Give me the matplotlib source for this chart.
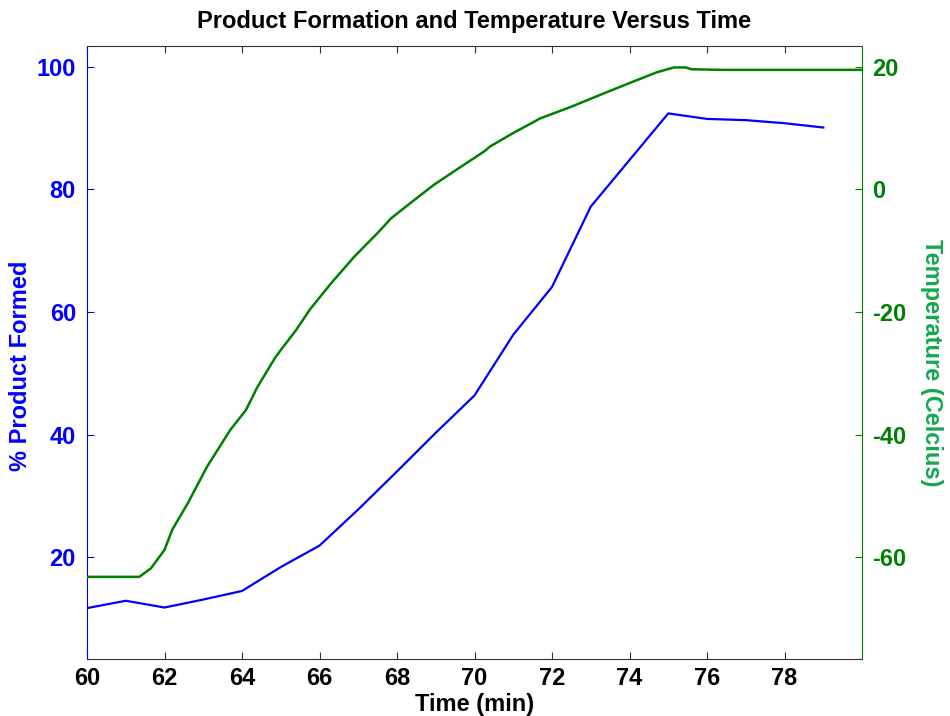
import matplotlib.pyplot as plt

# % product formed vs time
prod_t = [60, 61, 62, 63, 64, 65, 66, 67, 68, 69, 70, 71, 72, 73, 74, 75, 76, 77, 78, 79]
prod_pct = [11.7, 12.9, 11.8, 13.1, 14.5, 18.4, 21.9, 27.8, 34.0, 40.3, 46.4, 56.3, 64.1,
            77.2, 84.8, 92.4, 91.5, 91.3, 90.8, 90.1]

# temperature (Celcius) vs time
temp_t = [60, 61.35, 61.65, 62.0, 62.2, 62.6, 63.1, 63.7, 64.1, 64.4, 64.85, 65.0, 65.4,
          65.75, 66.3, 66.9, 67.5, 67.85, 68.35, 68.95, 69.65, 70.25, 70.4, 71.0, 71.7,
          72.5, 73.35, 74.1, 74.7, 75.15, 75.45, 75.6, 76.4, 80]
temp_c = [-63.2, -63.2, -61.8, -58.8, -55.5, -51.2, -45.2, -39.2, -36.0, -32.2, -27.5,
          -26.2, -22.9, -19.6, -15.3, -10.95, -7.1, -4.7, -2.2, 0.75, 3.7, 6.2, 7.0, 9.2,
          11.6, 13.5, 15.7, 17.6, 19.1, 19.9, 19.9, 19.6, 19.5, 19.5]

x_ticks = [60, 62, 64, 66, 68, 70, 72, 74, 76, 78]
left_ticks = [20, 40, 60, 80, 100]
right_ticks = [-60, -40, -20, 0, 20]

plt.rcParams['font.family'] = ['Liberation Sans', 'DejaVu Sans']
plt.rcParams['font.weight'] = 'bold'
plt.rcParams['axes.unicode_minus'] = False

blue = '#0000ff'
green = '#008000'
label_green = '#14a850'
fs = 17

fig = plt.figure(figsize=(9.5, 7.16), dpi=100)
ax = fig.add_axes([0.0916, 0.0796, 0.9074 - 0.0916, 0.9358 - 0.0796])
ax2 = ax.twinx()

ax.plot(prod_t, prod_pct, color=blue, lw=1.6)
ax2.plot(temp_t, temp_c, color=green, lw=1.8)

ax.set_xlim(60, 80)
ax.set_ylim(3.4, 103.4)
ax2.set_ylim(-76.6, 23.4)

ax.set_xticks(x_ticks)
ax.set_yticks(left_ticks)
ax2.set_yticks(right_ticks)

ax.tick_params(axis='x', direction='in', top=True, length=5, width=0.8, colors='#333333',
               labelcolor='black', labelsize=fs, pad=6)
ax.tick_params(axis='y', direction='in', length=5, width=0.8, colors=blue, labelcolor=blue,
               labelsize=fs, pad=8)
ax2.tick_params(axis='y', direction='in', length=5, width=0.8, colors=green,
                labelcolor=green, labelsize=fs, pad=7)

for lab in ax.get_xticklabels() + ax.get_yticklabels() + ax2.get_yticklabels():
    lab.set_fontweight('bold')

ax.spines['left'].set_color(blue)
ax.spines['right'].set_visible(False)
ax.spines['top'].set_color('#333333')
ax.spines['bottom'].set_color('#333333')
ax2.spines['left'].set_visible(False)
ax2.spines['top'].set_visible(False)
ax2.spines['bottom'].set_visible(False)
ax2.spines['right'].set_color(green)

ax.set_title('Product Formation and Temperature Versus Time', fontsize=fs,
             fontweight='bold', pad=13)
ax.set_xlabel('Time (min)', fontsize=fs, fontweight='bold')
ax.set_ylabel('% Product Formed', fontsize=fs, fontweight='bold', color=blue)
ax2.set_ylabel('Temperature (Celcius)', fontsize=fs, fontweight='bold', color=label_green,
               rotation=-90)
ax.xaxis.set_label_coords(0.5, -0.055)
ax.yaxis.set_label_coords(-0.071, 0.478)
ax2.yaxis.set_label_coords(1.104, 0.483)

fig.savefig('out.png', dpi=100)
